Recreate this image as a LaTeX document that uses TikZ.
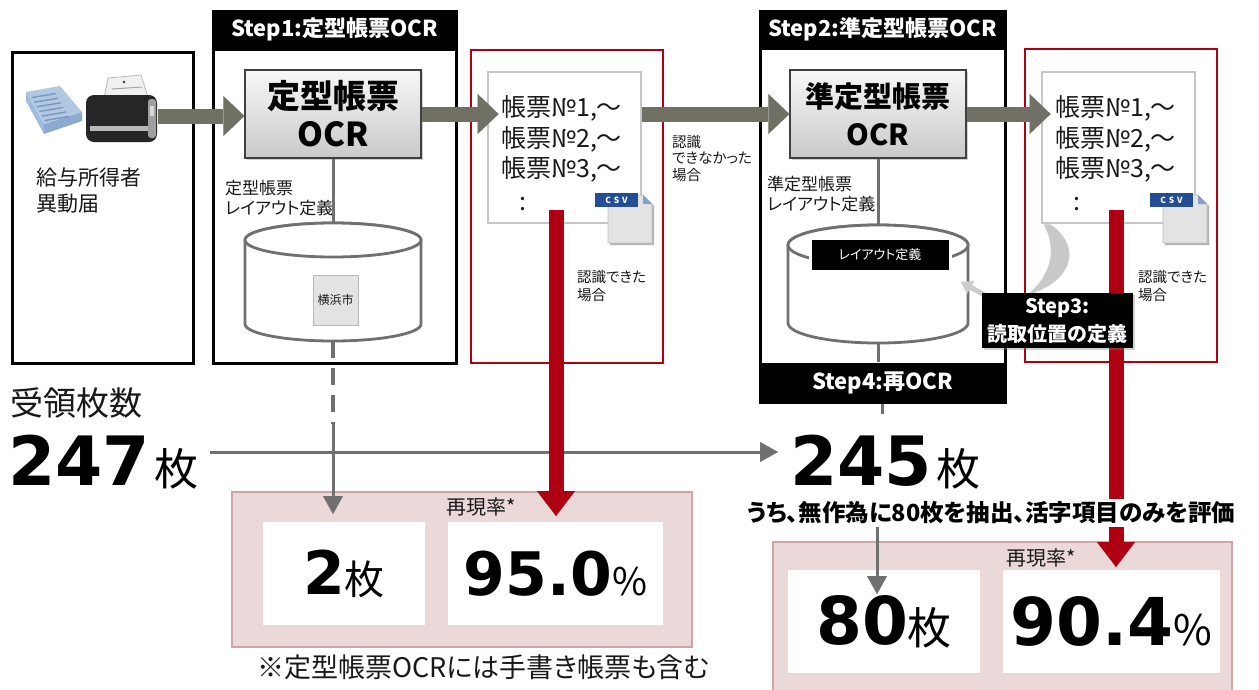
\documentclass[tikz,border=0pt]{standalone}
\usepackage{fontspec}
\setmainfont{Noto Sans CJK JP}[RawFeature=+palt]
\newfontfamily\numfont{DejaVu Sans}
\usetikzlibrary{arrows.meta,shadows,calc}
\pgfdeclarelayer{front}
\pgfsetlayers{main,front}

\definecolor{flowgray}{RGB}{112,112,100}
\definecolor{linegray}{RGB}{112,112,112}
\definecolor{okred}{RGB}{175,0,18}
\definecolor{pinkfill}{RGB}{235,216,217}
\definecolor{pinkline}{RGB}{208,165,170}
\definecolor{csvblue}{RGB}{35,78,150}
\definecolor{ink}{RGB}{25,25,25}
\definecolor{stacktop}{RGB}{178,200,226}
\definecolor{stackfront}{RGB}{140,170,208}
\definecolor{stackside}{RGB}{160,186,218}
\definecolor{stackline}{RGB}{120,150,190}

\newcommand\fsz[2]{\fontsize{#1}{#2}\selectfont}

% small CSV file icon: #1 = position of the tag's top left corner, #2 = label name
\newcommand\csvicon[2]{%
  \begin{scope}[shift={#1}]
    \fill[gray!60] (15,4) -- (50,4) -- (59,13) -- (59,52) -- (15,52) -- cycle;
    \filldraw[fill=gray!22, draw=gray!50, line width=0.6pt]
      (13,2) -- (48,2) -- (57,11) -- (57,50) -- (13,50) -- cycle;
    \fill[csvblue!55!white] (48,2) -- (48,11) -- (57,11) -- cycle;
    \fill[csvblue] (0,0) rectangle (43,14);
    \node[text=white, font=\bfseries\fsz{8.5}{9}, inner sep=0pt] (#2) at (21.5,7) {C\,\,S\,\,V};
  \end{scope}}

\begin{document}
\begin{tikzpicture}[x=1pt,y=-1pt,
  frame/.style={draw=black, line width=3pt, fill=white, inner sep=0pt},
  header/.style={fill=black, text=white, inner sep=0pt, font=\bfseries\fsz{22}{26}},
  ocrbox/.style={draw=black!75, line width=1.3pt, top color=gray!6, bottom color=gray!42,
    inner sep=0pt, align=center,
    drop shadow={opacity=0.35, shadow xshift=2pt, shadow yshift=-2pt}},
  redframe/.style={draw=okred, line width=2.7pt, fill=white, inner sep=0pt},
  docbox/.style={draw=gray!45, line width=2.8pt, fill=white, inner sep=0pt},
  doctxt/.style={anchor=base west, inner sep=0pt, font=\fsz{25}{28}, text=ink},
  cylline/.style={draw=linegray, line width=2.8pt, fill=white},
  conn/.style={draw=linegray, line width=3pt},
  flowarrow/.style={draw=flowgray, line width=15pt,
    -{Triangle[length=21pt,width=40pt,line width=0.01pt]}},
  redarrow/.style={draw=okred, line width=15pt,
    -{Triangle[length=25pt,width=38pt,line width=0.01pt]}},
  thinarrow/.style={draw=linegray, line width=3pt,
    -{Triangle[length=18pt,width=20pt,line width=0.01pt]}},
  note/.style={anchor=north west, inner sep=0pt, align=left, font=\fsz{14.5}{18}, text=ink},
  pinkbox/.style={draw=pinkline, line width=2pt, fill=pinkfill, inner sep=0pt},
  whitebox/.style={fill=white, inner sep=0pt},
  bigval/.style={inner sep=0pt, text=black},
]
\useasboundingbox (0,0) rectangle (1259,689);

% ---------------- input documents ----------------
\node[frame, minimum width=181pt, minimum height=311pt] (inbox) at (102.5,207.5) {};
\node[inner sep=0pt, minimum width=134pt, minimum height=64pt] (scanner) at (91,116) {};
% paper stack
\fill[stackside] (26,92) -- (44,124) -- (44,134) -- (26,101) -- cycle;
\fill[stackfront] (44,124) -- (82,112) -- (82,121) -- (44,134) -- cycle;
\fill[stacktop] (26,92) -- (60,86) -- (82,112) -- (44,124) -- cycle;
\foreach \k in {1,...,6}
  \draw[stackline, line width=1.4pt] ({29+2.6*\k},{93+4.6*\k}) -- ++(24,-4);
% scanner
\filldraw[fill=gray!12, draw=gray!55, line width=0.8pt] (104,98) -- (108,78) -- (141,75) -- (148,97) -- cycle;
\draw[gray!70, line width=1pt] (112,89) -- (142,87);
\fill[black!80] (124,82) circle (1.3pt);
\fill[black!85, rounded corners=8pt] (86,95) rectangle (157,142);
\fill[gray!55] (90,126) rectangle (148,131);
\fill[gray!75, rounded corners=3pt] (148,99) rectangle (156,138);
\fill[gray!30] (150,106) rectangle (154,116);
\node[anchor=north west, inner sep=0pt, align=left, font=\fsz{21}{26}, text=ink] (formname)
  at (36,168) {給与所得者\\異動届};

% ---------------- step 1 ----------------
\node[frame, minimum width=243pt, minimum height=314pt] (s1) at (334.5,206) {};
\node[header, minimum width=246pt, minimum height=39pt] (s1head) at (334.5,29.5) {Step1:定型帳票OCR};
\node[ocrbox, minimum width=176pt, minimum height=88pt, font=\bfseries\fsz{33}{38}] (ocr1)
  at (333,114) {定型帳票\\OCR};
\node[inner sep=0pt, minimum width=176pt, minimum height=118pt] (cyl1) at (333,282) {};
\filldraw[cylline] (245,240) -- (245,324) arc[start angle=180, end angle=360, x radius=88pt, y radius=17pt]
  -- (421,240) arc[start angle=0, end angle=180, x radius=88pt, y radius=17pt] -- cycle;
\draw[cylline] (333,240) ellipse[x radius=88pt, y radius=17pt];
\node[draw=gray!55, fill=gray!22, minimum width=45pt, minimum height=50pt, inner sep=0pt,
  font=\fsz{12}{14}, text=ink] (yoko) at (335.5,300) {横浜市};
\node[anchor=north west, inner sep=0pt, align=left, font=\fsz{17}{20}, text=ink] (def1)
  at (225,180) {定型帳票\\レイアウト定義};

% ---------------- result of step 1 ----------------
\node[redframe, minimum width=192pt, minimum height=313pt] (res1) at (567,206.5) {};
\node[docbox, minimum width=153pt, minimum height=151pt] (doc1) at (564.5,147.5) {};
\node[doctxt] (d1a) at (501,116.5) {帳票№1,～};
\node[doctxt] (d1b) at (501,147.5) {帳票№2,～};
\node[doctxt] (d1c) at (501,177.5) {帳票№3,～};
\node[doctxt] (d1d) at (519,210) {:};
\csvicon{(595,193)}{csv1}
\node[note] (ok1) at (577,270) {認識できた\\場合};
\node[note, font=\fsz{14.5}{16.5}] (ng) at (672,135) {認識\\できなかった\\場合};

% ---------------- step 2 / step 4 ----------------
\node[frame, minimum width=245pt, minimum height=330pt] (s2) at (882.5,213) {};
\node[header, minimum width=248pt, minimum height=39pt] (s2head) at (882.5,29.5) {Step2:準定型帳票OCR};
\node[ocrbox, minimum width=176pt, minimum height=88pt, font=\bfseries\fsz{29}{38}] (ocr2)
  at (878,114) {準定型帳票\\OCR};
\node[inner sep=0pt, minimum width=180pt, minimum height=118pt] (cyl2) at (878,284) {};
\filldraw[cylline] (788,245) -- (788,323) arc[start angle=180, end angle=360, x radius=90pt, y radius=20pt]
  -- (968,245) arc[start angle=0, end angle=180, x radius=90pt, y radius=20pt] -- cycle;
\draw[cylline] (878,245) ellipse[x radius=90pt, y radius=20pt];
\node[fill=black, draw=white, line width=3pt, minimum width=140pt, minimum height=33pt, inner sep=0pt,
  text=white, font=\fsz{13}{15},
  drop shadow={opacity=0.25, shadow xshift=1.5pt, shadow yshift=-1.5pt}] (layout) at (880,255) {レイアウト定義};
\node[anchor=north west, inner sep=0pt, align=left, font=\fsz{17}{20}, text=ink] (def2)
  at (767,176) {準定型帳票\\レイアウト定義};
\node[header, minimum width=248pt, minimum height=41pt] (s4) at (882.5,383) {Step4:再OCR};

% ---------------- result of step 2 ----------------
\node[redframe, minimum width=192pt, minimum height=313pt] (res2) at (1121,205.5) {};
\node[docbox, minimum width=153pt, minimum height=151pt] (doc2) at (1118.5,147.5) {};
\node[doctxt] (d2a) at (1055,116.5) {帳票№1,～};
\node[doctxt] (d2b) at (1055,147.5) {帳票№2,～};
\node[doctxt] (d2c) at (1055,177.5) {帳票№3,～};
\node[doctxt] (d2d) at (1073,210) {:};
\csvicon{(1150,193)}{csv2}
\node[note] (ok2) at (1138,270) {認識できた\\場合};

% ---------------- counts ----------------
\node[anchor=west, inner sep=0pt, font=\fsz{33}{36}, text=ink] (recv) at (10,403) {受領枚数};
\node[anchor=base west, inner sep=0pt] (n247) at (8,485)
  {{\numfont\bfseries\fsz{68}{70}247}\hspace{4pt}{\fsz{44}{46}枚}};
\node[anchor=base west, inner sep=0pt] (n245) at (790,485)
  {{\numfont\bfseries\fsz{68}{70}245}\hspace{4pt}{\fsz{44}{46}枚}};

% ---------------- summaries ----------------
\node[pinkbox, minimum width=460pt, minimum height=155pt] (sum1) at (462,569.5) {};
\node[whitebox, minimum width=162pt, minimum height=103pt] (w2) at (344,573.5) {};
\node[whitebox, minimum width=215pt, minimum height=103pt] (w95) at (555.5,573.5) {};
\node[anchor=west, inner sep=0pt, font=\fsz{20}{22}, text=ink] (rate1) at (446,507) {再現率*};
\node[bigval] (v2) at (w2) {{\numfont\bfseries\fsz{60}{62}2}{\fsz{40}{42}枚}};
\node[bigval] (v95) at (w95) {{\numfont\bfseries\fsz{60}{62}95.0}{\fsz{38}{40}\%}};

\node[pinkbox, minimum width=459pt, minimum height=158pt] (sum2) at (1002.5,621) {};
\node[whitebox, minimum width=192pt, minimum height=103pt] (w80) at (884,621.5) {};
\node[whitebox, minimum width=217pt, minimum height=103pt] (w904) at (1111.5,621.5) {};
\node[anchor=west, inner sep=0pt, font=\fsz{20}{22}, text=ink] (rate2) at (1006,558) {再現率*};
\node[bigval] (v80) at (w80) {{\numfont\bfseries\fsz{66}{68}80}{\fsz{44}{46}枚}};
\node[bigval] (v904) at (w904) {{\numfont\bfseries\fsz{66}{68}90.4}{\fsz{42}{44}\%}};

\node[anchor=west, inner sep=0pt, font=\fsz{27}{29}, text=ink] (foot) at (257,667)
  {※定型帳票OCRには手書き帳票も含む};

% ---------------- connectors ----------------
\draw[flowarrow] (scanner.east) -- (scanner.east -| ocr1.west);
\draw[flowarrow] (ocr1.east) -- ($(ocr1.east -| doc1.west)+(12,0)$);
\draw[flowarrow] (doc1.east |- ocr2.west) -- (ocr2.west);
\draw[flowarrow] (ocr2.east) -- ($(ocr2.east -| doc2.west)+(10,0)$);

\draw[conn] (ocr1.south) -- (ocr1.south |- cyl1.north);
\draw[conn] (ocr2.south) -- (ocr2.south |- cyl2.north);
\draw[conn] (cyl2.south) -- (cyl2.south |- s4.north);

\coordinate (dash1) at (333,424);
\coordinate (tip1) at (333,514);
\draw[conn, line width=3.5pt, dash pattern=on 17pt off 10pt] (cyl1.south) -- (dash1);
\draw[thinarrow] (dash1) -- (tip1);

\coordinate (flowstart) at (210,452);
\coordinate (flowend) at (778,452);
\draw[thinarrow] (flowstart) -- (flowend);
\draw[conn] (s4.south) -- ++(0,10);

\coordinate (tip80) at (877,594);
\draw[thinarrow] (877,520) -- (tip80);

% reading positions are defined from the recognised sheet
\fill[gray!42] ($(doc2.south west)+(10,0)$) .. controls (1086,250) and (1068,284) .. (1027,295)
  .. controls (1050,277) and (1058,250) .. ($(doc2.south west)+(3,0)$) -- cycle;
\coordinate (cyltarget) at (961,282);
\draw[draw=gray!40, line width=5pt, -{Triangle[length=11pt,width=15pt,line width=0.01pt]}]
  (990,298) -- (cyltarget);

\coordinate (r1top) at (556,210);
\coordinate (r1tip) at (556,516);
\draw[redarrow] (r1top) -- (r1tip);
\coordinate (r2top) at (1116,210);
\coordinate (r2tip) at (1116,567);
\draw[redarrow] (r2top) -- (r2tip);

% ---------------- labels on top ----------------
\begin{pgfonlayer}{front}
  \node[fill=black, text=white, align=center, inner sep=0pt, minimum width=151pt, minimum height=55pt,
    font=\bfseries\fsz{20}{28},
    drop shadow={opacity=0.35, shadow xshift=2pt, shadow yshift=-2pt}] (s3) at (1057.5,320.5)
    {Step3:\\読取位置の定義};
  \node[fill=white, inner sep=3pt, font=\bfseries\fsz{23.5}{26}, text=black] (note80) at (991,513)
    {うち、無作為に80枚を抽出、活字項目のみを評価};
\end{pgfonlayer}
\end{tikzpicture}
\end{document}
